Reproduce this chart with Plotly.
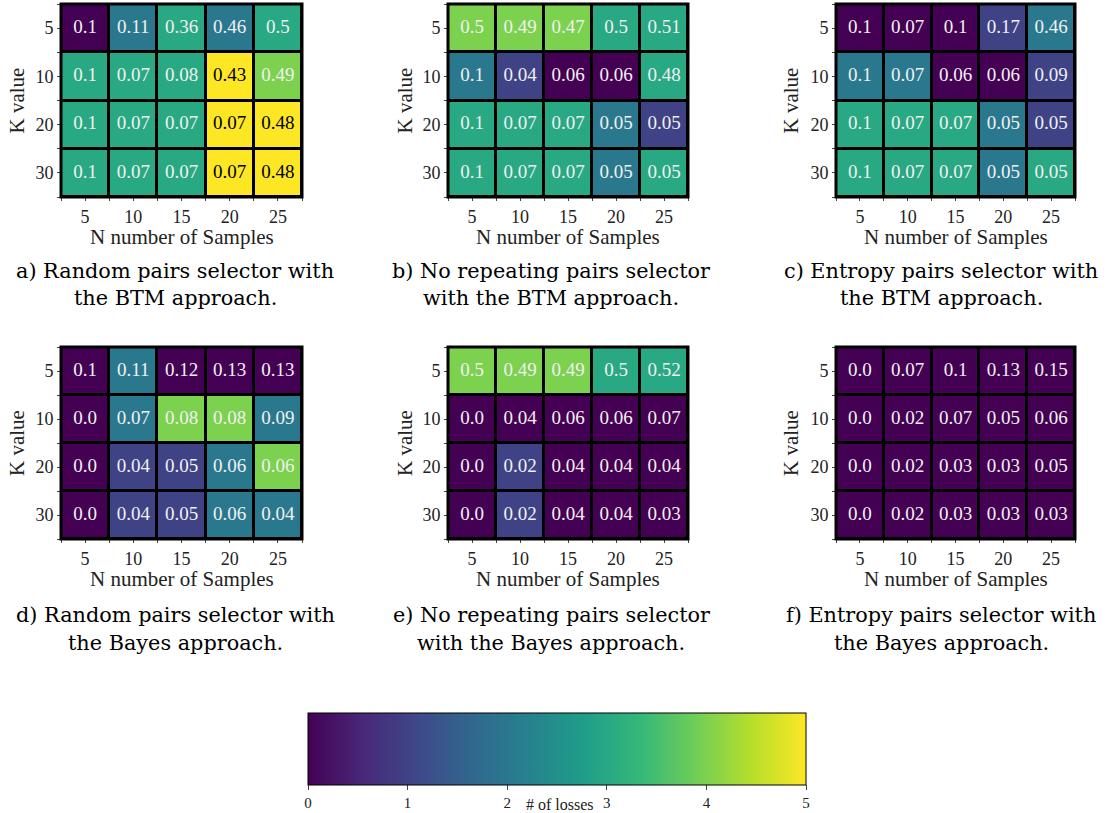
import plotly.graph_objects as go

# ---------------- data ----------------
n_samples = ["5", "10", "15", "20", "25"]
k_values = ["5", "10", "20", "30"]

# colour values (# of losses) per panel, rows = K, cols = N
losses_a = [[0, 2, 3, 2, 3], [3, 3, 3, 5, 4], [3, 3, 3, 5, 5], [3, 3, 3, 5, 5]]
losses_b = [[4, 4, 4, 3, 3], [2, 1, 0, 0, 3], [3, 3, 3, 2, 1], [3, 3, 3, 2, 3]]
losses_c = [[0, 0, 0, 1, 2], [2, 2, 0, 0, 1], [3, 3, 3, 2, 1], [3, 3, 3, 2, 3]]
losses_d = [[0, 2, 0, 0, 0], [0, 2, 4, 4, 2], [0, 1, 1, 2, 4], [0, 1, 1, 2, 2]]
losses_e = [[4, 4, 4, 3, 3], [0, 0, 0, 0, 0], [0, 1, 0, 0, 0], [0, 1, 0, 0, 0]]
losses_f = [[0, 0, 0, 0, 0], [0, 0, 0, 0, 0], [0, 0, 0, 0, 0], [0, 0, 0, 0, 0]]

# annotated values per panel
vals_a = [[0.1, 0.11, 0.36, 0.46, 0.5], [0.1, 0.07, 0.08, 0.43, 0.49], [0.1, 0.07, 0.07, 0.07, 0.48], [0.1, 0.07, 0.07, 0.07, 0.48]]
vals_b = [[0.5, 0.49, 0.47, 0.5, 0.51], [0.1, 0.04, 0.06, 0.06, 0.48], [0.1, 0.07, 0.07, 0.05, 0.05], [0.1, 0.07, 0.07, 0.05, 0.05]]
vals_c = [[0.1, 0.07, 0.1, 0.17, 0.46], [0.1, 0.07, 0.06, 0.06, 0.09], [0.1, 0.07, 0.07, 0.05, 0.05], [0.1, 0.07, 0.07, 0.05, 0.05]]
vals_d = [[0.1, 0.11, 0.12, 0.13, 0.13], [0.0, 0.07, 0.08, 0.08, 0.09], [0.0, 0.04, 0.05, 0.06, 0.06], [0.0, 0.04, 0.05, 0.06, 0.04]]
vals_e = [[0.5, 0.49, 0.49, 0.5, 0.52], [0.0, 0.04, 0.06, 0.06, 0.07], [0.0, 0.02, 0.04, 0.04, 0.04], [0.0, 0.02, 0.04, 0.04, 0.03]]
vals_f = [[0.0, 0.07, 0.1, 0.13, 0.15], [0.0, 0.02, 0.07, 0.05, 0.06], [0.0, 0.02, 0.03, 0.03, 0.05], [0.0, 0.02, 0.03, 0.03, 0.03]]

captions = [
    ["a) Random pairs selector with", "the BTM approach."],
    ["b) No repeating pairs selector", "with the BTM approach."],
    ["c) Entropy pairs selector with", "the BTM approach."],
    ["d) Random pairs selector with", "the Bayes approach."],
    ["e) No repeating pairs selector", "with the Bayes approach."],
    ["f) Entropy pairs selector with", "the Bayes approach."],
]
colorbar_ticks = [0, 1, 2, 3, 4, 5]

# ---------------- layout ----------------
W, H = 1109, 813
SERIF = "Liberation Serif"
CAPFONT = "DejaVu Serif"
panels = [
    (losses_a, vals_a), (losses_b, vals_b), (losses_c, vals_c),
    (losses_d, vals_d), (losses_e, vals_e), (losses_f, vals_f),
]
col_px = [(61, 302), (448, 688), (836, 1075)]
row_px = [(4, 197), (347, 539)]
ylab_x = [17, 405, 791]
caption_x = [175, 551, 941]
caption_y = [[271, 298], [615, 643]]
xtitle_y = [237, 579]

fig = go.Figure()
shapes = []
annotations = []
xs = list(range(len(n_samples)))
ys = list(range(len(k_values)))

for i, (loss, vals) in enumerate(panels):
    r, c = divmod(i, 3)
    sfx = "" if i == 0 else str(i + 1)
    xa, ya = "x" + sfx, "y" + sfx
    x0, x1 = col_px[c]
    t0, t1 = row_px[r]
    fig.add_trace(go.Heatmap(
        z=loss, x=xs, y=ys, coloraxis="coloraxis", xgap=3, ygap=3,
        xaxis=xa, yaxis=ya, hoverinfo="skip",
    ))
    tx, ty, tt, tc = [], [], [], []
    for yi in ys:
        for xi in xs:
            tx.append(xi)
            ty.append(yi)
            tt.append(str(vals[yi][xi]))
            tc.append("black" if loss[yi][xi] >= 5 else "#f0f0f0")
    fig.add_trace(go.Scatter(
        x=tx, y=ty, text=tt, mode="text", xaxis=xa, yaxis=ya,
        textfont=dict(family=SERIF, size=19, color=tc), showlegend=False,
        hoverinfo="skip",
    ))
    axcommon = dict(
        showgrid=False, zeroline=False, ticks="outside", ticklen=3, tickwidth=1,
        tickcolor="#444", showline=True, linecolor="#888", linewidth=1,
        tickfont=dict(family=SERIF, size=18, color="#222"),
        minor=dict(tick0=-0.5, dtick=1, ticks="outside", ticklen=3, tickcolor="#444"),
    )
    fig.update_layout(**{
        "xaxis" + sfx: dict(
            domain=[x0 / W, x1 / W], anchor=ya, range=[-0.5, 4.5],
            tickvals=xs, ticktext=n_samples, **axcommon),
        "yaxis" + sfx: dict(
            domain=[1 - t1 / H, 1 - t0 / H], anchor=xa, range=[3.5, -0.5],
            tickvals=ys, ticktext=k_values, **axcommon),
    })
    shapes.append(dict(type="rect", xref=xa + " domain", yref=ya + " domain",
                       x0=0, x1=1, y0=0, y1=1, line=dict(color="black", width=3)))
    # axis titles
    annotations.append(dict(text="N number of Samples", xref="paper", yref="paper",
                            x=(x0 + x1) / 2 / W, y=1 - xtitle_y[r] / H,
                            showarrow=False, font=dict(family=SERIF, size=21, color="#222"),
                            xanchor="center", yanchor="middle"))
    annotations.append(dict(text="K value", xref="paper", yref="paper",
                            x=ylab_x[c] / W, y=1 - (t0 + t1) / 2 / H, textangle=-90,
                            showarrow=False, font=dict(family=SERIF, size=21, color="#222"),
                            xanchor="center", yanchor="middle"))
    for li in range(2):
        annotations.append(dict(text=captions[i][li], xref="paper", yref="paper",
                                x=caption_x[c] / W, y=1 - caption_y[r][li] / H,
                                showarrow=False, font=dict(family=CAPFONT, size=20.8, color="black"),
                                xanchor="center", yanchor="middle"))

annotations.append(dict(text="# of losses", xref="paper", yref="paper",
                        x=560 / W, y=1 - 804 / H, showarrow=False,
                        font=dict(family=SERIF, size=16, color="#222"),
                        xanchor="center", yanchor="middle"))

fig.update_layout(
    width=W, height=H, margin=dict(l=0, r=0, t=0, b=0),
    paper_bgcolor="white", plot_bgcolor="black", showlegend=False,
    shapes=shapes, annotations=annotations,
    coloraxis=dict(
        colorscale="Viridis", cmin=0, cmax=5,
        colorbar=dict(
            orientation="h", thickness=72, thicknessmode="pixels",
            len=498, lenmode="pixels", x=557 / W, xanchor="center",
            y=1 - 713 / H, yanchor="top", ypad=0, xpad=0,
            outlinewidth=1, outlinecolor="black",
            tickvals=colorbar_ticks, ticks="outside", ticklen=5, tickcolor="#444",
            tickfont=dict(family=SERIF, size=15, color="#222"),
        ),
    ),
)

fig.write_html("out.html")
